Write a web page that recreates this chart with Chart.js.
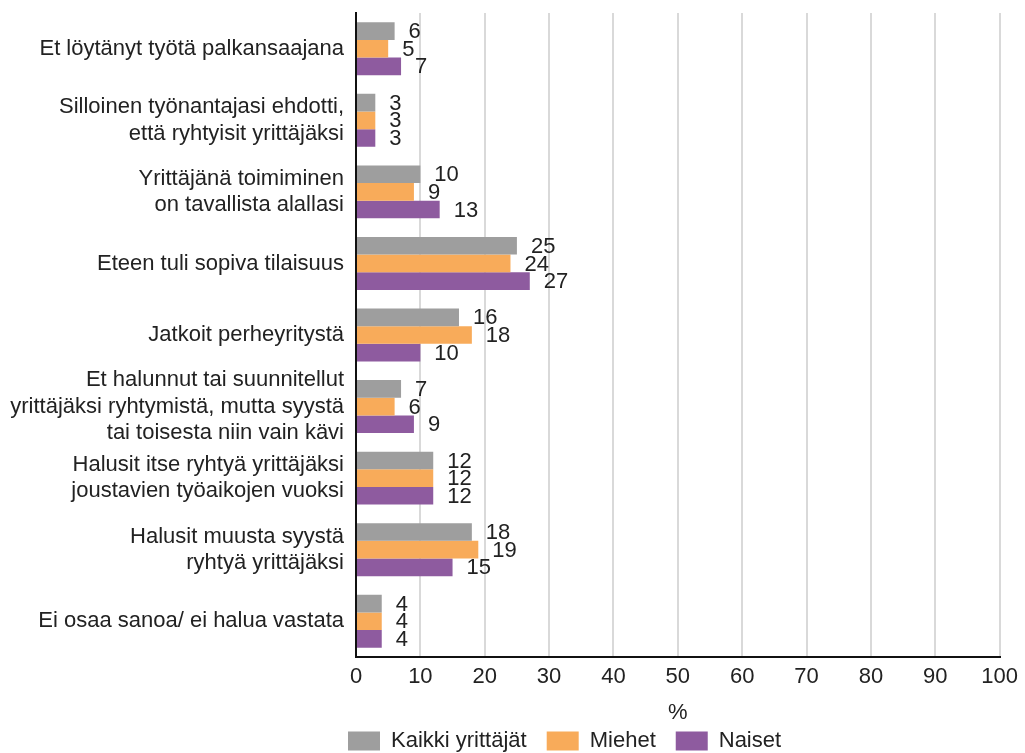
<!DOCTYPE html>
<html>
<head>
<meta charset="utf-8">
<script src="https://cdn.jsdelivr.net/npm/chart.js@4.4.1/dist/chart.umd.min.js"></script>
<style>
html,body{margin:0;padding:0;background:#fff;}
#wrap{width:1025px;height:753px;position:relative;}
</style>
</head>
<body>
<div id="wrap"><canvas id="c" width="1025" height="753"></canvas></div>
<script>
const categories = [
  "Et löytänyt työtä palkansaajana",
  ["Silloinen työnantajasi ehdotti,", "että ryhtyisit yrittäjäksi"],
  ["Yrittäjänä toimiminen", "on tavallista alallasi"],
  "Eteen tuli sopiva tilaisuus",
  "Jatkoit perheyritystä",
  ["Et halunnut tai suunnitellut", "yrittäjäksi ryhtymistä, mutta syystä", "tai toisesta niin vain kävi"],
  ["Halusit itse ryhtyä yrittäjäksi", "joustavien työaikojen vuoksi"],
  ["Halusit muusta syystä", "ryhtyä yrittäjäksi"],
  "Ei osaa sanoa/ ei halua vastata"
];
const seriesNames = ["Kaikki yrittäjät", "Miehet", "Naiset"];
const kaikki = [6, 3, 10, 25, 16, 7, 12, 18, 4];
const miehet = [5, 3, 9, 24, 18, 6, 12, 19, 4];
const naiset = [7, 3, 13, 27, 10, 9, 12, 15, 4];
const xTicks = [0,10,20,30,40,50,60,70,80,90,100];

const FONT = "'Liberation Sans Narrow', 'Arial Narrow', 'Liberation Sans', sans-serif";
const TXT = '#222222';
const colors = ['#9e9e9e', '#f8ab5a', '#8e5b9f'];

const valueLabels = {
  id: 'valueLabels',
  afterDatasetsDraw(chart) {
    const ctx = chart.ctx;
    ctx.save();
    ctx.font = '22px ' + FONT;
    ctx.fillStyle = TXT;
    ctx.textAlign = 'left';
    ctx.textBaseline = 'middle';
    chart.data.datasets.forEach((ds, i) => {
      const meta = chart.getDatasetMeta(i);
      meta.data.forEach((el, j) => {
        ctx.fillText(String(ds.data[j]), el.x + 14, el.y + 1);
      });
    });
    ctx.restore();
  }
};

const legendPlace = {
  id: 'legendPlace',
  afterLayout(chart) {
    const lg = chart.legend;
    if (!lg) return;
    const w = lg.right - lg.left;
    lg.left = 328;
    lg.right = 328 + w;
    lg.top = 710;
    lg.bottom = 753;
  }
};

new Chart(document.getElementById('c'), {
  type: 'bar',
  data: {
    labels: categories,
    datasets: [
      { label: seriesNames[0], data: kaikki, backgroundColor: colors[0] },
      { label: seriesNames[1], data: miehet, backgroundColor: colors[1] },
      { label: seriesNames[2], data: naiset, backgroundColor: colors[2] }
    ]
  },
  options: {
    indexAxis: 'y',
    responsive: false,
    animation: false,
    devicePixelRatio: 1,
    layout: { padding: { top: 0, right: 18, left: 0, bottom: 0 } },
    datasets: { bar: { categoryPercentage: 0.74, barPercentage: 1.0 } },
    scales: {
      x: {
        min: 0, max: 100,
        afterBuildTicks(scale) { scale.ticks = xTicks.map(v => ({ value: v })); },
        grid: { color: '#d9d9d9', lineWidth: 2, drawTicks: false },
        border: { color: '#111', width: 2 },
        ticks: { font: { size: 22, family: FONT }, color: TXT, padding: 7, maxRotation: 0 },
        title: { display: true, text: '%', font: { size: 22, family: FONT }, color: TXT, padding: { top: 0, bottom: 0 } },
        afterFit(scale) { scale.height = 69; }
      },
      y: {
        grid: { display: false, drawTicks: false },
        border: { color: '#111', width: 2 },
        ticks: { font: { size: 22, family: FONT, lineHeight: 1.2 }, color: TXT, padding: 12, autoSkip: false },
        afterFit(scale) { scale.width = 356; scale.paddingTop = 13; scale.paddingBottom = 0; }
      }
    },
    plugins: {
      legend: {
        position: 'bottom',
        align: 'start',
        fullSize: false,
        maxHeight: 27,
        labels: { font: { size: 22, family: FONT }, color: TXT, boxWidth: 32, boxHeight: 19, padding: 20 }
      },
      tooltip: { enabled: false }
    }
  },
  plugins: [valueLabels, legendPlace]
});
</script>
</body>
</html>
